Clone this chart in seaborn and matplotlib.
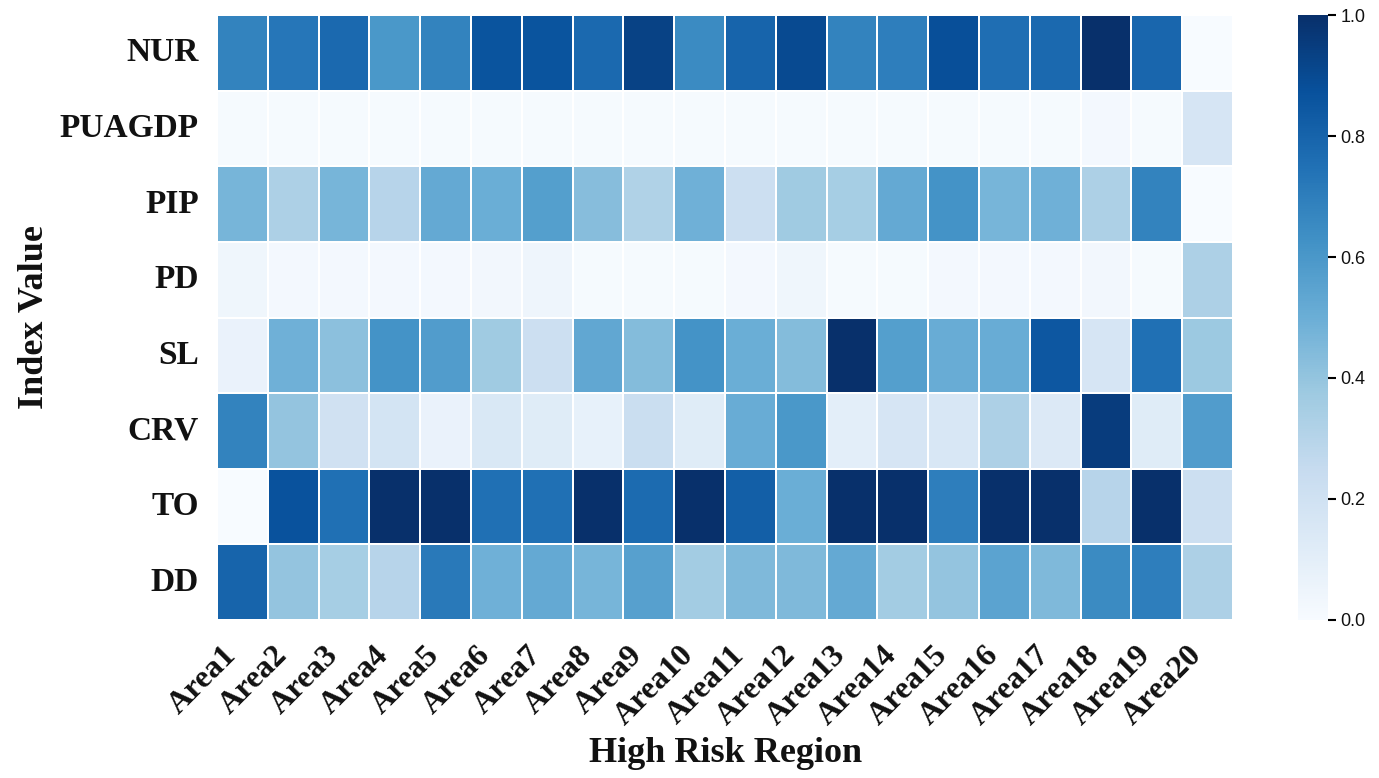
import numpy as np
import pandas as pd
import matplotlib
matplotlib.use("Agg")
import matplotlib.pyplot as plt
import seaborn as sns

areas = [f"Area{i}" for i in range(1, 21)]
indices = ["NUR", "PUAGDP", "PIP", "PD", "SL", "CRV", "TO", "DD"]

nur = [0.68, 0.73, 0.78, 0.60, 0.68, 0.86, 0.86, 0.78, 0.93, 0.65,
       0.80, 0.90, 0.68, 0.70, 0.88, 0.76, 0.78, 1.00, 0.79, 0.00]
puagdp = [0.01, 0.01, 0.01, 0.01, 0.01, 0.01, 0.01, 0.01, 0.01, 0.01,
          0.01, 0.01, 0.01, 0.01, 0.01, 0.01, 0.01, 0.02, 0.01, 0.17]
pip = [0.47, 0.33, 0.47, 0.30, 0.52, 0.50, 0.57, 0.43, 0.32, 0.49,
       0.22, 0.37, 0.35, 0.52, 0.62, 0.47, 0.49, 0.33, 0.68, 0.00]
pd_ = [0.04, 0.02, 0.02, 0.02, 0.02, 0.03, 0.05, 0.01, 0.01, 0.01,
       0.02, 0.04, 0.01, 0.01, 0.02, 0.02, 0.02, 0.03, 0.01, 0.33]
sl = [0.07, 0.49, 0.42, 0.62, 0.58, 0.37, 0.22, 0.53, 0.44, 0.62,
      0.50, 0.44, 1.00, 0.57, 0.51, 0.51, 0.85, 0.17, 0.75, 0.38]
crv = [0.68, 0.40, 0.20, 0.18, 0.07, 0.15, 0.12, 0.08, 0.23, 0.12,
       0.51, 0.60, 0.10, 0.17, 0.16, 0.33, 0.14, 0.95, 0.12, 0.58]
to = [0.00, 0.87, 0.75, 1.00, 1.00, 0.75, 0.75, 1.00, 0.77, 1.00,
      0.82, 0.50, 1.00, 1.00, 0.70, 1.00, 1.00, 0.30, 1.00, 0.22]
dd = [0.80, 0.40, 0.35, 0.30, 0.72, 0.49, 0.52, 0.47, 0.56, 0.36,
      0.45, 0.45, 0.52, 0.36, 0.40, 0.55, 0.45, 0.65, 0.70, 0.33]

df = pd.DataFrame([nur, puagdp, pip, pd_, sl, crv, to, dd],
                  index=indices, columns=areas)

sns.set_theme(style="white")

fig = plt.figure(figsize=(13.79, 7.78), dpi=100)
ax = fig.add_axes([0.1574, 0.2031, 0.7368, 0.7776])
cax = fig.add_axes([0.9413, 0.2031, 0.0218, 0.7776])

sns.heatmap(df, ax=ax, cbar_ax=cax, cmap="Blues", vmin=0, vmax=1,
            linewidths=1.2, linecolor="white")

serif = "Liberation Serif"
ink = "#111111"
ax.set_xticklabels(areas, rotation=45, ha="right",
                   fontsize=23, fontweight="bold", family=serif, color=ink)
ax.set_yticklabels(indices, rotation=0, fontsize=24, fontweight="bold",
                   family=serif, color=ink)
ax.tick_params(axis="x", length=0, pad=15)
ax.tick_params(axis="y", length=0, pad=13)
ax.set_xlabel("High Risk Region", fontsize=26, fontweight="bold",
              family=serif, labelpad=4, color=ink)
ax.set_ylabel("Index Value", fontsize=26, fontweight="bold",
              family=serif, color=ink)
ax.yaxis.set_label_coords(-0.163, 0.5)

cax.set_yticks([0.0, 0.2, 0.4, 0.6, 0.8, 1.0])
cax.set_yticklabels(["0.0", "0.2", "0.4", "0.6", "0.8", "1.0"])
cax.tick_params(axis="y", length=6, width=1.5, labelsize=13, color="black",
                labelcolor=ink, pad=3)
for lab in cax.get_yticklabels():
    lab.set_family("Liberation Sans")
cax.yaxis.set_ticks_position("right")

fig.savefig("out.png", dpi=100)
